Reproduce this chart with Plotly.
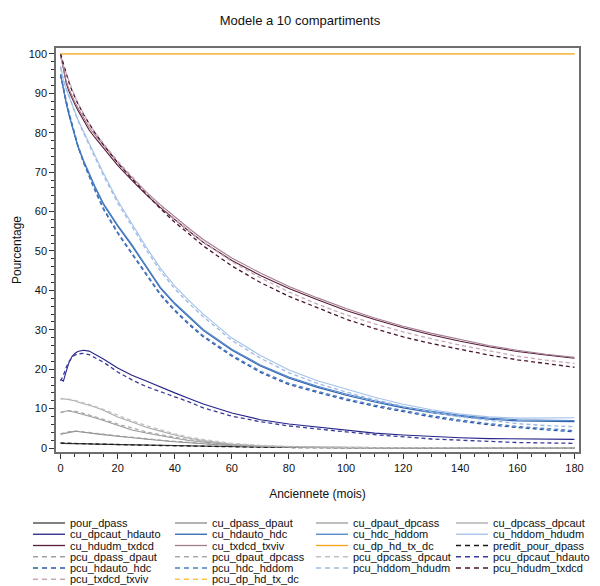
import plotly.graph_objects as go

# ---------------- data ----------------
X = [0, 1, 2, 3, 4, 5, 6, 8, 10, 12, 15, 20, 25, 30, 35, 40, 45, 50, 60, 70, 80, 90,
     100, 110, 120, 130, 140, 150, 160, 170, 180]
ORANGE_X = [0, 180]

pour_dpass = [1.2, 1.2, 1.2, 1.2, 1.15, 1.15, 1.1, 1.1, 1.05, 1.0, 0.95, 0.9, 0.85, 0.75, 0.7, 0.6,
              0.55, 0.45, 0.35, 0.25, 0.15, 0.1, 0.08, 0.06, 0.05, 0.05, 0.05, 0.05, 0.05, 0.05, 0.05]
cu_dpass_dpaut = [3.5, 3.7, 3.9, 4.0, 4.1, 4.2, 4.2, 4.0, 3.8, 3.6, 3.4, 3.0, 2.6, 2.2, 1.9, 1.6,
                  1.3, 1.1, 0.6, 0.35, 0.2, 0.15, 0.1, 0.08, 0.06, 0.05, 0.05, 0.05, 0.05, 0.05, 0.05]
cu_dpaut_dpcass = [9.1, 9.3, 9.4, 9.4, 9.3, 9.1, 8.9, 8.5, 8.2, 7.7, 7.0, 5.7, 4.6, 3.8, 3.1, 2.5,
                   1.9, 1.5, 0.8, 0.4, 0.2, 0.15, 0.1, 0.08, 0.06, 0.05, 0.05, 0.05, 0.05, 0.05, 0.05]
cu_dpcass_dpcaut = [12.4, 12.5, 12.4, 12.3, 12.2, 12.0, 11.7, 11.3, 10.9, 10.4, 9.6, 7.9, 6.6, 5.3,
                    4.3, 3.3, 2.5, 1.9, 0.9, 0.5, 0.3, 0.2, 0.15, 0.1, 0.1, 0.08, 0.06, 0.05, 0.05, 0.05, 0.05]
cu_dpcaut_hdauto = [17.5, 17.0, 19.5, 21.8, 23.2, 24.0, 24.5, 24.8, 24.6, 23.8, 22.6, 20.3, 18.5, 17.0,
                    15.4, 14.0, 12.6, 11.2, 8.9, 7.2, 6.1, 5.3, 4.5, 3.8, 3.3, 2.9, 2.6, 2.4, 2.3, 2.2, 2.2]
cu_hdauto_hdc = [94.7, 90.7, 87.3, 84.3, 81.6, 79.1, 76.6, 72.8, 69.4, 66.2, 61.8, 56.3, 51.3, 45.9,
                 40.5, 36.5, 33.1, 29.8, 24.8, 20.8, 17.7, 15.4, 13.4, 11.7, 10.2, 9.0, 8.0, 7.3, 6.9, 6.8, 6.7]
cu_hdc_hddom = [94.9, 91.0, 87.6, 84.6, 81.9, 79.4, 76.9, 73.1, 69.7, 66.5, 62.1, 56.6, 51.6, 46.2,
                40.8, 36.8, 33.4, 30.1, 25.1, 21.1, 18.0, 15.7, 13.7, 12.0, 10.5, 9.3, 8.3, 7.6, 7.2, 7.1, 7.0]
cu_hddom_hdudm = [96.9, 93.2, 91.0, 89.2, 87.3, 85.1, 83.5, 80.4, 77.4, 74.3, 69.8, 62.8, 57.0, 51.0,
                  45.6, 41.1, 37.4, 34.0, 27.9, 23.5, 19.8, 17.1, 15.0, 12.9, 11.1, 9.7, 8.6, 7.9, 7.6, 7.6, 7.7]
cu_hdudm_txdcd = [100.0, 96.0, 92.5, 90.4, 88.7, 87.2, 85.8, 83.2, 80.7, 78.8, 76.1, 71.7, 67.9, 64.3,
                  61.0, 57.9, 55.0, 52.2, 47.6, 43.8, 40.5, 37.6, 34.9, 32.6, 30.5, 28.7, 27.1, 25.7,
                  24.5, 23.6, 22.8]
cu_txdcd_txviv = [99.6, 96.2, 93.0, 91.0, 89.3, 87.8, 86.4, 83.8, 81.4, 79.5, 76.8, 72.4, 68.6, 65.0,
                  61.7, 58.6, 55.7, 52.9, 48.2, 44.4, 41.0, 38.1, 35.4, 33.0, 30.9, 29.1, 27.5, 26.0,
                  24.8, 23.8, 23.0]
cu_dp_hd_tx_dc = [100.0, 100.0]
predit_pour_dpass = [1.3, 1.25, 1.25, 1.2, 1.2, 1.15, 1.15, 1.1, 1.05, 1.0, 0.95, 0.88, 0.8, 0.72, 0.65,
                     0.57, 0.5, 0.42, 0.32, 0.22, 0.15, 0.1, 0.08, 0.06, 0.05, 0.05, 0.05, 0.05, 0.05, 0.05, 0.05]
pcu_dpass_dpaut = [3.6, 3.8, 4.0, 4.2, 4.3, 4.3, 4.3, 4.1, 3.9, 3.7, 3.5, 3.1, 2.7, 2.3, 2.0, 1.7,
                   1.4, 1.2, 0.7, 0.4, 0.25, 0.15, 0.1, 0.08, 0.06, 0.05, 0.05, 0.05, 0.05, 0.05, 0.05]
pcu_dpaut_dpcass = [9.0, 9.2, 9.4, 9.5, 9.5, 9.4, 9.2, 8.8, 8.4, 7.9, 7.3, 6.1, 5.0, 4.1, 3.4, 2.7,
                    2.1, 1.7, 1.0, 0.55, 0.3, 0.2, 0.15, 0.1, 0.08, 0.06, 0.05, 0.05, 0.05, 0.05, 0.05]
pcu_dpcass_dpcaut = [12.6, 12.6, 12.5, 12.4, 12.3, 12.1, 11.9, 11.5, 11.1, 10.6, 9.8, 8.3, 6.9, 5.7,
                     4.6, 3.6, 2.8, 2.2, 1.2, 0.7, 0.4, 0.25, 0.15, 0.1, 0.08, 0.06, 0.05, 0.05, 0.05, 0.05, 0.05]
pcu_dpcaut_hdauto = [17.0, 18.5, 20.5, 22.0, 23.0, 23.6, 23.9, 24.0, 23.7, 23.0, 21.8, 19.3, 17.3, 15.6,
                     14.2, 13.0, 11.7, 10.2, 8.1, 6.7, 5.6, 4.8, 4.1, 3.4, 2.8, 2.3, 2.0, 1.7, 1.4, 1.3, 1.2]
pcu_hdauto_hdc = [94.7, 91.0, 87.8, 84.8, 82.0, 79.3, 76.7, 72.5, 68.8, 65.4, 60.6, 54.5, 49.2, 44.0,
                  38.8, 34.8, 31.3, 28.2, 23.3, 19.2, 16.1, 14.1, 12.2, 10.6, 9.2, 7.9, 6.8, 5.9, 5.2, 4.6, 4.1]
pcu_hdc_hddom = [94.8, 91.2, 88.1, 85.1, 82.3, 79.6, 77.0, 72.8, 69.1, 65.7, 60.9, 54.8, 49.5, 44.3,
                 39.1, 35.1, 31.6, 28.5, 23.6, 19.5, 16.4, 14.4, 12.5, 10.9, 9.5, 8.2, 7.1, 6.2, 5.5, 4.9, 4.4]
pcu_hddom_hdudm = [96.5, 93.4, 91.2, 89.3, 87.3, 85.0, 83.2, 80.0, 76.9, 73.8, 69.2, 62.2, 56.3, 50.3,
                   44.9, 40.4, 36.7, 33.3, 27.3, 22.8, 19.1, 16.4, 14.2, 12.3, 10.6, 9.1, 7.9, 7.0, 6.2, 5.7, 5.4]
pcu_hdudm_txdcd = [100.0, 97.3, 94.8, 92.6, 90.7, 89.0, 87.5, 84.7, 82.2, 80.0, 77.0, 72.4, 68.3, 64.4,
                   60.7, 57.3, 54.2, 51.3, 46.2, 42.0, 38.5, 35.5, 32.7, 30.3, 28.2, 26.5, 25.0, 23.6,
                   22.4, 21.4, 20.5]
pcu_txdcd_txviv = [99.0, 97.0, 94.8, 92.8, 90.9, 89.2, 87.6, 84.8, 82.3, 80.2, 77.3, 72.8, 68.8, 65.0,
                   61.4, 58.1, 55.1, 52.3, 47.3, 43.2, 39.6, 36.5, 33.8, 31.5, 29.5, 27.7, 26.1, 24.7,
                   23.3, 22.3, 21.5]
pcu_dp_hd_tx_dc = [100.0, 100.0]

TITLE = "Modele a 10 compartiments"
XTITLE = "Anciennete (mois)"
YTITLE = "Pourcentage"

# name, x, y, color, dashed
SERIES = [
    ("pour_dpass", X, pour_dpass, "#3c3c3c", False),
    ("cu_dpass_dpaut", X, cu_dpass_dpaut, "#8a8a8a", False),
    ("cu_dpaut_dpcass", X, cu_dpaut_dpcass, "#9a9a9a", False),
    ("cu_dpcass_dpcaut", X, cu_dpcass_dpcaut, "#ababab", False),
    ("cu_dpcaut_hdauto", X, cu_dpcaut_hdauto, "#24248a", False),
    ("cu_hdauto_hdc", X, cu_hdauto_hdc, "#2f64ac", False),
    ("cu_hdc_hddom", X, cu_hdc_hddom, "#4b80c8", False),
    ("cu_hddom_hdudm", X, cu_hddom_hdudm, "#a3c1ea", False),
    ("cu_hdudm_txdcd", X, cu_hdudm_txdcd, "#561c3a", False),
    ("cu_txdcd_txviv", X, cu_txdcd_txviv, "#a27d90", False),
    ("cu_dp_hd_tx_dc", ORANGE_X, cu_dp_hd_tx_dc, "#f5a418", False),
    ("predit_pour_dpass", X, predit_pour_dpass, "#1a1a1a", True),
    ("pcu_dpass_dpaut", X, pcu_dpass_dpaut, "#a0a0a0", True),
    ("pcu_dpaut_dpcass", X, pcu_dpaut_dpcass, "#ababab", True),
    ("pcu_dpcass_dpcaut", X, pcu_dpcass_dpcaut, "#c2c2c2", True),
    ("pcu_dpcaut_hdauto", X, pcu_dpcaut_hdauto, "#3a3a9a", True),
    ("pcu_hdauto_hdc", X, pcu_hdauto_hdc, "#2a58a4", True),
    ("pcu_hdc_hddom", X, pcu_hdc_hddom, "#4a7cc4", True),
    ("pcu_hddom_hdudm", X, pcu_hddom_hdudm, "#9cbae4", True),
    ("pcu_hdudm_txdcd", X, pcu_hdudm_txdcd, "#4a1530", True),
    ("pcu_txdcd_txviv", X, pcu_txdcd_txviv, "#c9a7b7", True),
    ("pcu_dp_hd_tx_dc", ORANGE_X, pcu_dp_hd_tx_dc, "#ffc24a", True),
]

FONT = "Liberation Sans, Arial, sans-serif"
DASH = "4px,3px"

fig = go.Figure()
for name, xs, ys, col, dashed in SERIES:
    fig.add_trace(go.Scatter(
        x=xs, y=ys, name=name, mode="lines", showlegend=False,
        line=dict(color=col, width=1.3 if dashed else 1.1, dash=DASH if dashed else "solid"),
    ))

# ---------------- layout geometry (pixels) ----------------
W, H = 600, 586
PL, PR, PT, PB = 56, 579, 48, 452   # plot area box


def px_to_paper_x(px):
    return (px - PL) / (PR - PL)


def py_to_paper_y(py):
    return (PB - py) / (PB - PT)


# compact legend (4 columns, row-major order)
COL_X = [33, 175, 316, 456]
ROW_Y0, ROW_DY = 523, 11.25
SAMPLE_LEN = 32
shapes, annotations = [], []
for i, (name, xs, ys, col, dashed) in enumerate(SERIES):
    c, r = i % 4, i // 4
    x0 = COL_X[c]
    yy = ROW_Y0 + r * ROW_DY
    shapes.append(dict(
        type="line", xref="paper", yref="paper",
        x0=px_to_paper_x(x0), x1=px_to_paper_x(x0 + SAMPLE_LEN),
        y0=py_to_paper_y(yy), y1=py_to_paper_y(yy),
        line=dict(color=col, width=1.5 if dashed else 1.3, dash="5px,4px" if dashed else "solid"),
    ))
    annotations.append(dict(
        xref="paper", yref="paper", x=px_to_paper_x(x0 + 35), y=py_to_paper_y(yy),
        xanchor="left", yanchor="middle", text=name, showarrow=False,
        font=dict(family=FONT, size=11, color="#111111"),
    ))

fig.update_layout(
    width=W, height=H,
    margin=dict(l=PL, r=W - PR, t=PT, b=H - PB, pad=0),
    paper_bgcolor="white", plot_bgcolor="white",
    font=dict(family=FONT, size=11, color="#111111"),
    title=dict(text=TITLE, x=0.5, xref="container", xanchor="center",
               y=1 - 20 / H, yref="container", yanchor="middle",
               font=dict(family=FONT, size=13, color="#111111")),
    showlegend=False,
    shapes=shapes,
    annotations=annotations,
)

axis_common = dict(
    showgrid=False, zeroline=False,
    showline=True, mirror=True, linecolor="#6e6e6e", linewidth=1.5,
    ticks="outside", ticklen=5, tickwidth=1, tickcolor="#333333",
    tickfont=dict(family=FONT, size=11, color="#111111"),
)
fig.update_xaxes(
    range=[-1.6, 181.6], tick0=0, dtick=20,
    minor=dict(ticks="outside", dtick=5, tick0=0, ticklen=3, tickcolor="#333333"),
    title=dict(text=XTITLE, font=dict(family=FONT, size=12, color="#111111"), standoff=17),
    **axis_common,
)
fig.update_yaxes(
    range=[-1.0, 101.5], tick0=0, dtick=10,
    minor=dict(ticks="outside", dtick=2, tick0=0, ticklen=3, tickcolor="#333333"),
    title=dict(text=YTITLE, font=dict(family=FONT, size=12, color="#111111"), standoff=4),
    **axis_common,
)

fig.write_html("out.html")
